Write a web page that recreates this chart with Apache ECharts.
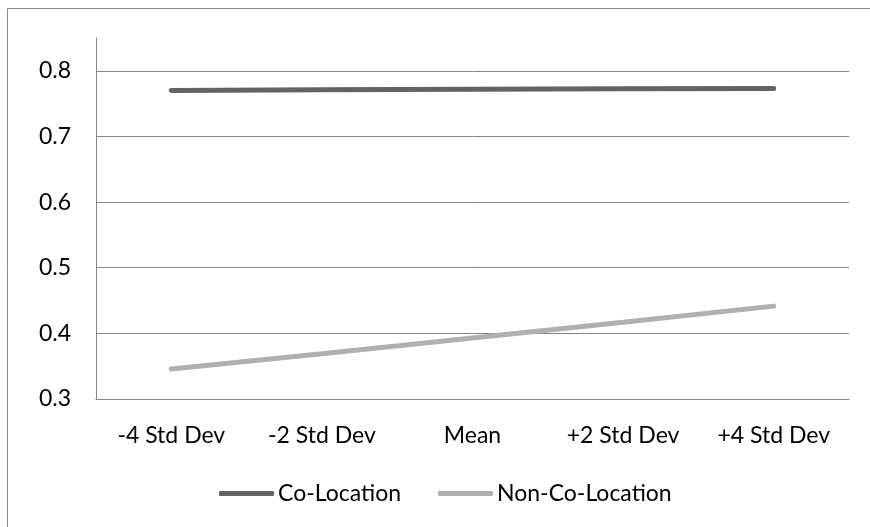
<!DOCTYPE html>
<html>
<head>
<meta charset="utf-8">
<script src="https://cdn.jsdelivr.net/npm/echarts@6/dist/echarts.min.js"></script>
<style>
  html, body { margin: 0; padding: 0; background: #fff; }
  #chart { width: 870px; height: 527px; }
</style>
</head>
<body>
<div id="chart"></div>
<script>
// Predicted values across the moderator range
const categories = ['-4 Std Dev', '-2 Std Dev', 'Mean', '+2 Std Dev', '+4 Std Dev'];
const coLocation = [0.770, 0.771, 0.772, 0.7725, 0.773];
const nonCoLocation = [0.3456, 0.369, 0.393, 0.417, 0.4415];
const yMin = 0.3;
const yMax = 0.85;
const yStep = 0.1;

const FONT = 'Lato, "Open Sans", sans-serif';
const AXIS_GREY = '#868686';

const chart = echarts.init(document.getElementById('chart'), null, { renderer: 'canvas' });

chart.setOption({
  animation: false,
  backgroundColor: '#ffffff',
  textStyle: { fontFamily: FONT },
  graphic: [{
    type: 'rect',
    shape: { x: 7.5, y: 8.5, width: 1000, height: 1000 },
    style: { fill: 'none', stroke: AXIS_GREY, lineWidth: 1 },
    silent: true
  }],
  grid: { left: 96, right: 21, top: 38, bottom: 128 },
  legend: {
    left: 214,
    top: 477,
    itemWidth: 55,
    itemHeight: 5,
    itemGap: 37,
    icon: 'roundRect',
    textStyle: { fontFamily: FONT, fontSize: 23, color: '#000', padding: [0, 0, 0, -1] },
    data: ['Co-Location', 'Non-Co-Location']
  },
  xAxis: {
    type: 'category',
    data: categories,
    boundaryGap: true,
    axisLine: { lineStyle: { color: AXIS_GREY, width: 1 } },
    axisTick: { show: false },
    axisLabel: { fontFamily: FONT, fontSize: 23, color: '#000', margin: 25 },
    splitLine: { show: false }
  },
  yAxis: {
    type: 'value',
    min: yMin,
    max: yMax,
    interval: yStep,
    axisLine: { show: true, lineStyle: { color: AXIS_GREY, width: 1 } },
    axisTick: { show: false },
    axisLabel: {
      fontFamily: FONT, fontSize: 23, color: '#000', margin: 25,
      showMaxLabel: false,
      formatter: v => v.toFixed(1)
    },
    splitLine: { show: true, showMaxLine: false, lineStyle: { color: AXIS_GREY, width: 1 } }
  },
  series: [
    {
      name: 'Co-Location',
      type: 'line',
      data: coLocation,
      symbol: 'none',
      color: '#636363',
      lineStyle: { width: 5, color: '#636363', cap: 'round' }
    },
    {
      name: 'Non-Co-Location',
      type: 'line',
      data: nonCoLocation,
      symbol: 'none',
      color: '#b0b0b0',
      lineStyle: { width: 5, color: '#b0b0b0', cap: 'round' }
    }
  ]
});
</script>
</body>
</html>
